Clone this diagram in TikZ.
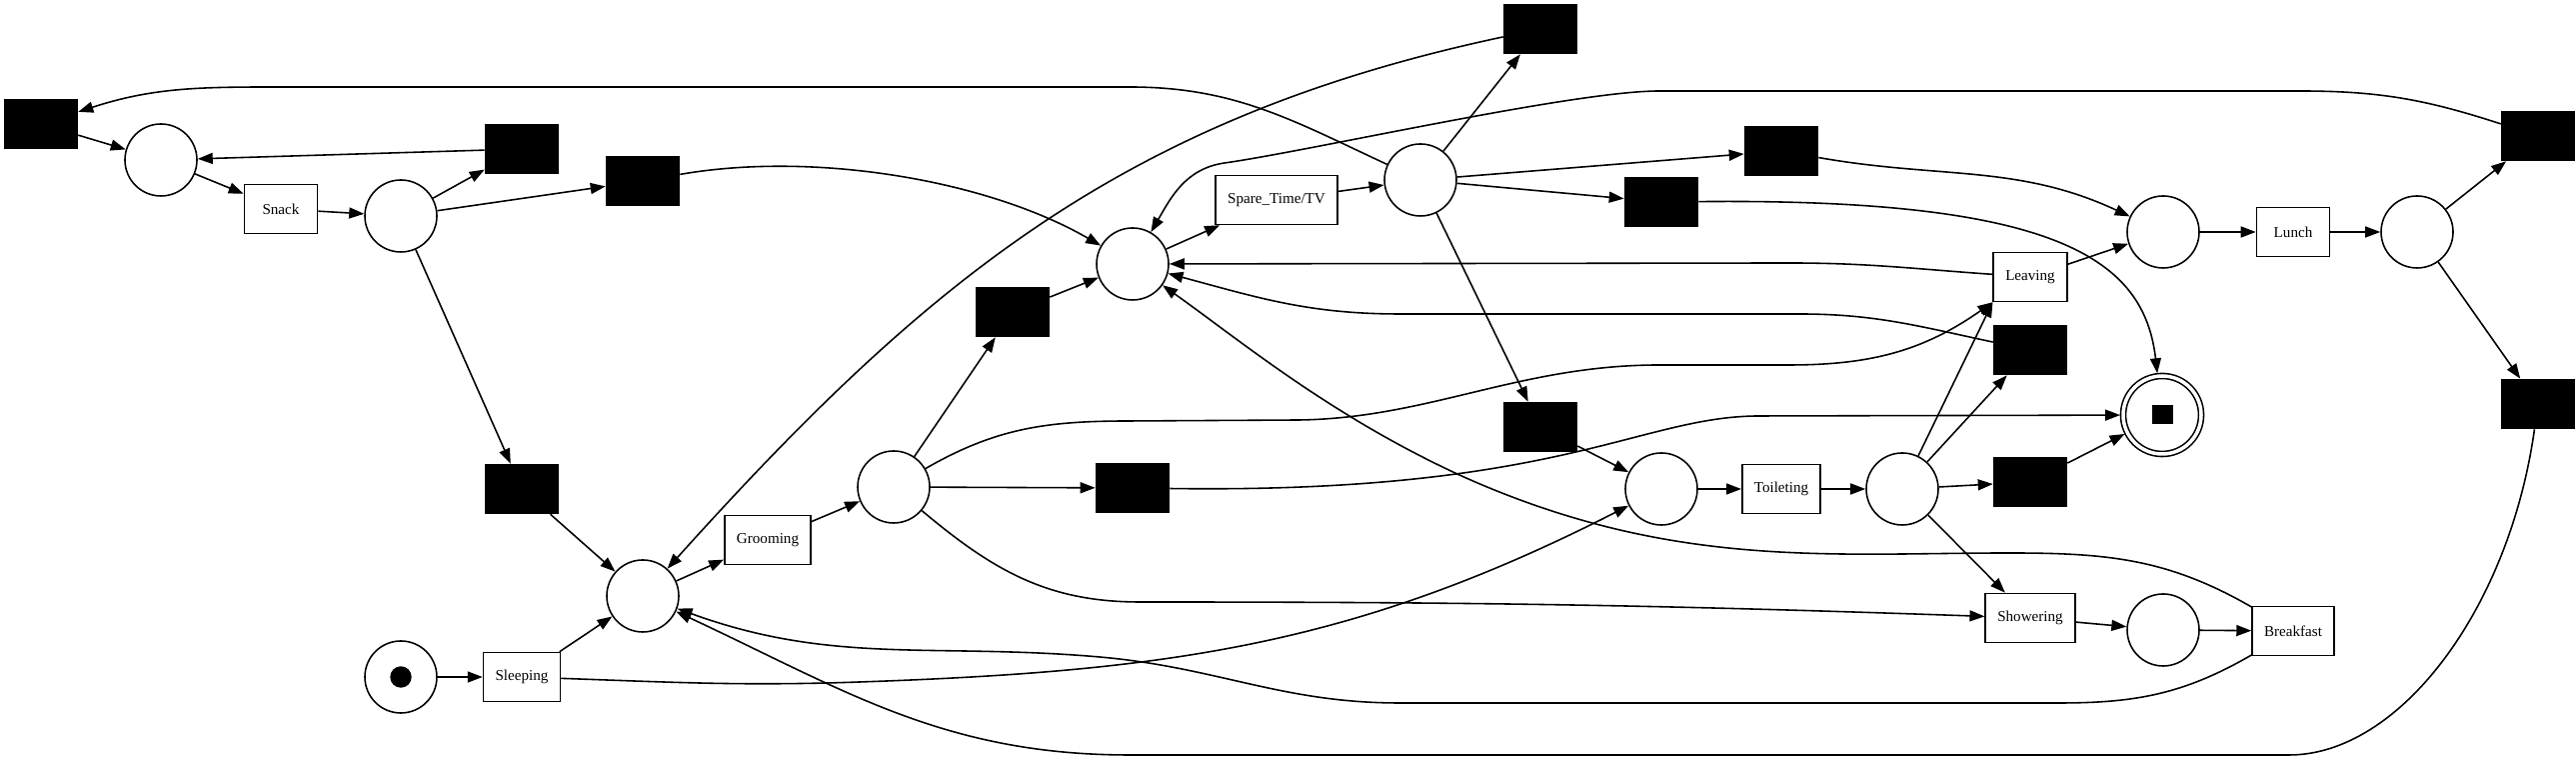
\documentclass[tikz,border=0pt]{standalone}
\usepackage{fontspec}
\setmainfont{Liberation Serif}
\usepackage{tikz}
\usetikzlibrary{arrows.meta}
\tikzset{
	place/.style={circle, draw, line width=0.45pt, minimum size=0.72cm, inner sep=0pt},
	trans/.style={draw, line width=0.45pt, minimum width=0.73cm, minimum height=0.49cm, inner xsep=0.12cm, inner ysep=0pt, font=\fontsize{4.3}{5}\selectfont},
	silent/.style={trans, fill=black},
	flowarc/.style={line width=0.45pt, -{Triangle[length=0.15cm, width=0.11cm]}}
}

\begin{document}
	\begin{tikzpicture}
		%%%%% START %%%%%
		\useasboundingbox (0, 0) rectangle (25.77, 7.60);
		
		% places
		\node[place] (src) at (4.01, 0.83) {};
		\draw[fill=black] (src) circle (0.1);
		\node[place, double, double distance=0.035cm, minimum size=0.78cm, outer sep=0.03cm] (sink) at (21.63, 3.45) {\rule{0.21cm}{0.19cm}};
		\node[place] (p1) at (1.61, 6.00) {};
		\node[place] (p2) at (4.01, 5.44) {};
		\node[place] (p3) at (11.33, 4.96) {};
		\node[place] (p4) at (14.21, 5.80) {};
		\node[place] (p5) at (21.64, 5.28) {};
		\node[place] (p6) at (24.18, 5.28) {};
		\node[place] (p7) at (6.43, 1.64) {};
		\node[place] (p8) at (8.94, 2.73) {};
		\node[place] (p9) at (16.62, 2.71) {};
		\node[place] (p10) at (19.03, 2.71) {};
		\node[place] (p11) at (21.64, 1.30) {};
		
		% activities
		\node[trans] (snack) at (2.81, 5.51) {Snack};
		\node[trans] (spare) at (12.77, 5.60) {Spare\_Time/TV};
		\node[trans] (lunch) at (22.94, 5.28) {Lunch};
		\node[trans] (leaving) at (20.31, 4.83) {Leaving};
		\node[trans] (grooming) at (7.68, 2.20) {Grooming};
		\node[trans] (sleeping) at (5.22, 0.83) {Sleeping};
		\node[trans] (toileting) at (17.82, 2.71) {Toileting};
		\node[trans] (showering) at (20.31, 1.42) {Showering};
		\node[trans] (breakfast) at (22.94, 1.29) {Breakfast};
		
		% silent steps
		\node[silent] (tau1) at (0.41, 6.36) {};
		\node[silent] (tau2) at (5.22, 6.11) {};
		\node[silent] (tau3) at (6.43, 5.79) {};
		\node[silent] (tau4) at (15.41, 7.31) {};
		\node[silent] (tau5) at (16.62, 5.58) {};
		\node[silent] (tau6) at (10.13, 4.48) {};
		\node[silent] (tau7) at (17.82, 6.09) {};
		\node[silent] (tau8) at (25.39, 6.24) {};
		\node[silent] (tau9) at (20.31, 4.10) {};
		\node[silent] (tau10) at (5.22, 2.71) {};
		\node[silent] (tau11) at (11.33, 2.72) {};
		\node[silent] (tau12) at (15.41, 3.33) {};
		\node[silent] (tau13) at (20.31, 2.78) {};
		\node[silent] (tau14) at (25.39, 3.56) {};
		
		% straight arcs
		\draw[flowarc] (tau1) -- (p1);
		\draw[flowarc] (p1) -- (snack);
		\draw[flowarc] (snack) -- (p2);
		\draw[flowarc] (p2) -- (tau2);
		\draw[flowarc] (tau2) -- (p1);
		\draw[flowarc] (p2) -- (tau3);
		\draw[flowarc] (p2) -- (tau10);
		\draw[flowarc] (tau10) -- (p7);
		\draw[flowarc] (src) -- (sleeping);
		\draw[flowarc] (sleeping) -- (p7);
		\draw[flowarc] (p7) -- (grooming);
		\draw[flowarc] (grooming) -- (p8);
		\draw[flowarc] (p8) -- (tau11);
		\draw[flowarc] (p8) -- (tau6);
		\draw[flowarc] (tau6) -- (p3);
		\draw[flowarc] (p3) -- (spare);
		\draw[flowarc] (spare) -- (p4);
		\draw[flowarc] (p4) -- (tau4);
		\draw[flowarc] (p4) -- (tau7);
		\draw[flowarc] (p4) -- (tau5);
		\draw[flowarc] (p4) -- (tau12);
		\draw[flowarc] (tau12) -- (p9);
		\draw[flowarc] (p9) -- (toileting);
		\draw[flowarc] (toileting) -- (p10);
		\draw[flowarc] (p10) -- (leaving.south west);
		\draw[flowarc] (p10) -- (tau9);
		\draw[flowarc] (p10) -- (tau13);
		\draw[flowarc] (tau13) -- (sink);
		\draw[flowarc] (p10) -- (showering);
		\draw[flowarc] (showering) -- (p11);
		\draw[flowarc] (p11) -- (breakfast);
		\draw[flowarc] (leaving) -- (p5);
		\draw[flowarc] (p5) -- (lunch);
		\draw[flowarc] (lunch) -- (p6);
		\draw[flowarc] (p6) -- (tau8);
		\draw[flowarc] (p6) -- (tau14);
		
		% curved arcs
		\draw[flowarc] (tau3) to[out=10, in=150, looseness=0.8] (p3);
		\draw[flowarc] (p4) to[out=155, in=0] (11.3, 6.73) -- (2.75, 6.73) to[out=180, in=18] (tau1);
		\draw[flowarc] (tau4) to[out=192, in=48] (p7);
		\draw[flowarc] (tau7) to[out=-10, in=155] (p5);
		\draw[flowarc] (tau5) .. controls (20.6, 5.62) and (21.45, 5.0) .. (sink);
		\draw[flowarc] (tau11) .. controls (15.6, 2.66) and (16.4, 3.44) .. (17.6, 3.44) -- (sink);
		\draw[flowarc] (tau8) to[out=162, in=0] (23.0, 6.69) -- (16.6, 6.69) to[out=180, in=8, looseness=0.5] (12.25, 5.97) to[out=188, in=60] (p3);
		\draw[flowarc] (tau9) to[out=168, in=0] (18.0, 4.46) -- (14.0, 4.46) to[out=180, in=-15] (p3);
		\draw[flowarc] (leaving) to[out=176, in=0] (17.9, 4.97) -- (p3);
		\draw[flowarc] (breakfast) to[out=150, in=0] (20.1, 2.07) .. controls (18.3, 2.07) and (16.7, 1.9) .. (14.6, 2.85) .. controls (13.3, 3.45) and (12.4, 4.2) .. (p3);
		\draw[flowarc] (breakfast) to[out=210, in=0] (20.6, 0.57) -- (14.0, 0.57) to[out=180, in=-5] (11.0, 1.03) to[out=175, in=-20] (p7);
		\draw[flowarc] (tau14) .. controls (25.1, 1.5) and (24.0, 0.05) .. (22.9, 0.05) -- (11.3, 0.05) to[out=180, in=-25] (p7);
		\draw[flowarc] (sleeping) to[out=-2, in=182] (8.6, 0.78) to[out=2, in=207] (p9);
		\draw[flowarc] (p8) to[out=-40, in=180] (11.4, 1.58) to[out=0, in=178] (showering);
		\draw[flowarc] (p8) to[out=30, in=180] (11.3, 3.39) -- (13.0, 3.40) .. controls (14.3, 3.42) and (15.2, 3.95) .. (16.6, 3.95) -- (17.9, 3.95) to[out=0, in=215] (leaving.south west);
		
		%%%%% END %%%%%
	\end{tikzpicture}
\end{document}
